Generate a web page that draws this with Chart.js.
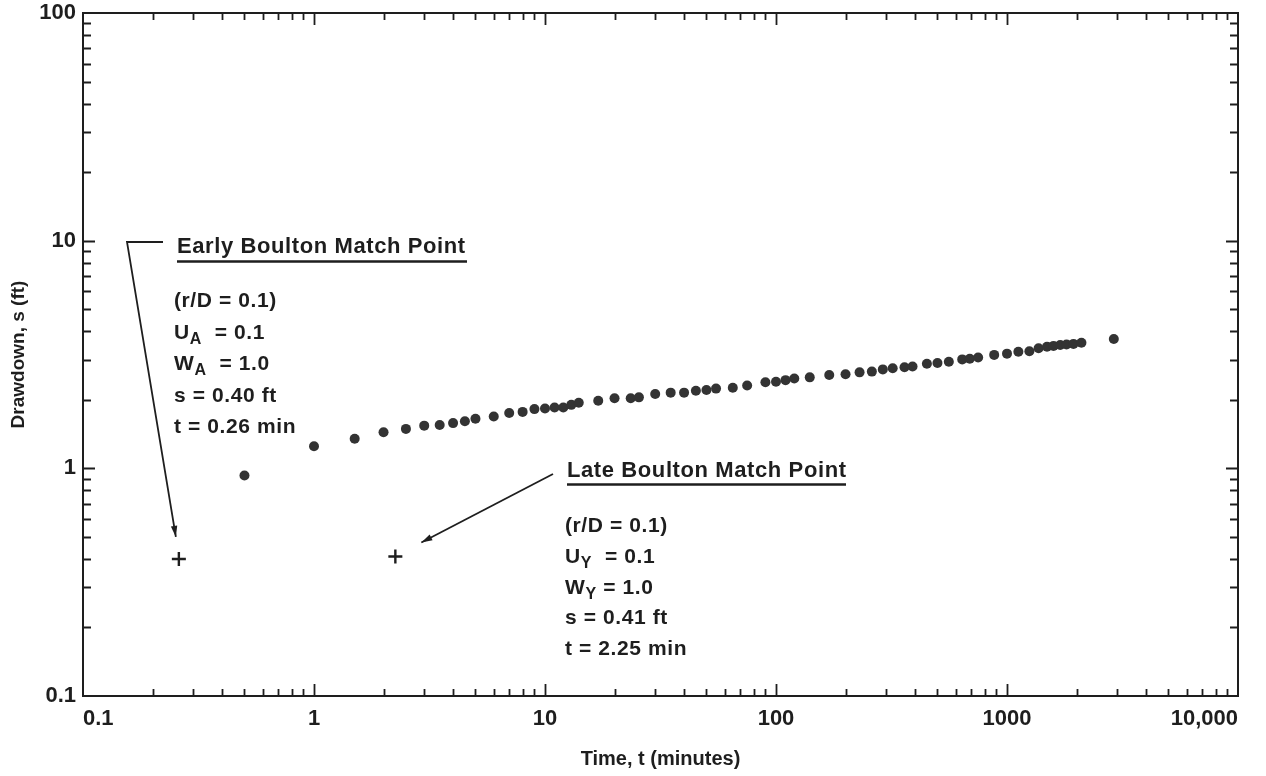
<!DOCTYPE html>
<html>
<head>
<meta charset="utf-8">
<script src="https://cdn.jsdelivr.net/npm/chart.js@4.4.1/dist/chart.umd.min.js"></script>
<style>
  html, body { margin: 0; padding: 0; background: #fff; }
  canvas { display: block; }
</style>
</head>
<body>
<canvas id="chart" width="1266" height="776"></canvas>
<script>
// Observed drawdown in the observation well (time in minutes, drawdown in feet)
const timeMinutes = [0.5, 1, 1.5, 2, 2.5, 3, 3.5, 4, 4.5, 5, 6, 7, 8, 9, 10, 11, 12, 13, 14, 17, 20,
  23.5, 25.5, 30, 35, 40, 45, 50, 55, 65, 75, 90, 100, 110, 120, 140, 170, 200, 230, 260, 290, 320,
  360, 390, 450, 500, 560, 640, 690, 750, 880, 1000, 1120, 1250, 1370, 1490, 1590, 1700, 1810, 1940,
  2100, 2900];
const drawdownFt = [0.93, 1.25, 1.35, 1.44, 1.49, 1.54, 1.55, 1.58, 1.61, 1.65, 1.69, 1.75, 1.77,
  1.82, 1.83, 1.85, 1.85, 1.90, 1.94, 1.98, 2.03, 2.03, 2.05, 2.12, 2.15, 2.15, 2.19, 2.21, 2.24,
  2.26, 2.31, 2.39, 2.40, 2.44, 2.48, 2.51, 2.57, 2.59, 2.64, 2.66, 2.72, 2.75, 2.78, 2.80, 2.88,
  2.90, 2.94, 3.01, 3.03, 3.07, 3.15, 3.19, 3.25, 3.27, 3.37, 3.42, 3.45, 3.48, 3.50, 3.52, 3.56,
  3.70];

// Boulton type-curve match points: early (A) and late (Y)
const matchTimes = [0.26, 2.25];
const matchDrawdowns = [0.40, 0.41];

// Decade ticks
const timeTicks = [0.1, 1, 10, 100, 1000, 10000];
const timeTickLabels = ['0.1', '1', '10', '100', '1000', '10,000'];
const drawdownTicks = [0.1, 1, 10, 100];
const drawdownTickLabels = ['0.1', '1', '10', '100'];

// Match-point notes
const earlyTitle = 'Early Boulton Match Point';
const earlyLines = [
  [{ t: '(r/D = 0.1)' }],
  [{ t: 'U' }, { t: 'A', sub: true }, { t: '  = 0.1' }],
  [{ t: 'W' }, { t: 'A', sub: true }, { t: '  = 1.0' }],
  [{ t: 's = 0.40 ft' }],
  [{ t: 't = 0.26 min' }]
];
const lateTitle = 'Late Boulton Match Point';
const lateLines = [
  [{ t: '(r/D = 0.1)' }],
  [{ t: 'U' }, { t: 'Y', sub: true }, { t: '  = 0.1' }],
  [{ t: 'W' }, { t: 'Y', sub: true }, { t: ' = 1.0' }],
  [{ t: 's = 0.41 ft' }],
  [{ t: 't = 2.25 min' }]
];

const INK = '#1e1e1e';
const FONT = '"Liberation Sans", Arial, Helvetica, sans-serif';

const whiteBackground = {
  id: 'whiteBackground',
  beforeDraw(chart) {
    const { ctx, width, height } = chart;
    ctx.save();
    ctx.fillStyle = '#fff';
    ctx.fillRect(0, 0, width, height);
    ctx.restore();
  }
};

// Box frame with inward-pointing log ticks on all four sides
const frameTicks = {
  id: 'frameTicks',
  afterDatasetsDraw(chart) {
    const { ctx, chartArea: a, scales: { x, y } } = chart;
    ctx.save();
    ctx.strokeStyle = INK;
    ctx.lineCap = 'butt';
    ctx.lineWidth = 2;
    ctx.strokeRect(a.left, a.top, a.right - a.left, a.bottom - a.top);
    ctx.lineWidth = 1.8;
    ctx.beginPath();
    for (let d = 0.1; d < 10000; d *= 10) {
      for (let m = 1; m <= 9; m++) {
        const v = d * m;
        if (v <= 0.1 + 1e-9) continue;
        const px = Math.round(x.getPixelForValue(v)) + 0.5;
        const len = m === 1 ? 12 : 7;
        ctx.moveTo(px, a.bottom); ctx.lineTo(px, a.bottom - len);
        ctx.moveTo(px, a.top); ctx.lineTo(px, a.top + len);
      }
    }
    for (let d = 0.1; d < 100; d *= 10) {
      for (let m = 1; m <= 9; m++) {
        const v = d * m;
        if (v <= 0.1 + 1e-9) continue;
        const py = Math.round(y.getPixelForValue(v)) + 0.5;
        const len = m === 1 ? 12 : 8;
        ctx.moveTo(a.left, py); ctx.lineTo(a.left + len, py);
        ctx.moveTo(a.right, py); ctx.lineTo(a.right - len, py);
      }
    }
    ctx.stroke();
    ctx.restore();
  }
};

function drawRich(ctx, x, y, parts) {
  let cx = x;
  for (const p of parts) {
    ctx.font = p.sub ? `bold 16px ${FONT}` : `bold 21px ${FONT}`;
    ctx.fillText(p.t, cx, p.sub ? y + 5 : y);
    cx += ctx.measureText(p.t).width;
  }
}

function drawArrow(ctx, pts) {
  ctx.beginPath();
  ctx.moveTo(pts[0][0], pts[0][1]);
  for (let i = 1; i < pts.length; i++) ctx.lineTo(pts[i][0], pts[i][1]);
  ctx.stroke();
  const [x1, y1] = pts[pts.length - 2];
  const [x2, y2] = pts[pts.length - 1];
  const ang = Math.atan2(y2 - y1, x2 - x1);
  const L = 11, W = 3.2;
  const c = Math.cos(ang), s = Math.sin(ang);
  ctx.beginPath();
  ctx.moveTo(x2, y2);
  ctx.lineTo(x2 - L * c + W * s, y2 - L * s - W * c);
  ctx.lineTo(x2 - L * c - W * s, y2 - L * s + W * c);
  ctx.closePath();
  ctx.fill();
}

// Labels and leader arrows for the two match points
const matchNotes = {
  id: 'matchNotes',
  afterDraw(chart) {
    const { ctx, scales: { x, y } } = chart;
    ctx.save();
    ctx.fillStyle = INK;
    ctx.strokeStyle = INK;
    ctx.textBaseline = 'alphabetic';
    ctx.textAlign = 'left';
    ctx.letterSpacing = '0.6px';

    // Early match point block
    ctx.font = `bold 22px ${FONT}`;
    ctx.fillText(earlyTitle, 177, 253);
    ctx.lineWidth = 2.5;
    ctx.beginPath(); ctx.moveTo(177, 261.5); ctx.lineTo(467, 261.5); ctx.stroke();
    earlyLines.forEach((parts, i) => drawRich(ctx, 174, 307 + i * 31.5, parts));

    // Late match point block
    ctx.font = `bold 22px ${FONT}`;
    ctx.fillText(lateTitle, 567, 477);
    ctx.beginPath(); ctx.moveTo(567, 484.5); ctx.lineTo(846, 484.5); ctx.stroke();
    lateLines.forEach((parts, i) => drawRich(ctx, 565, 532 + i * 30.8, parts));

    // Leader arrows ending just off each match point
    ctx.lineWidth = 1.8;
    const ex = x.getPixelForValue(matchTimes[0]);
    const ey = y.getPixelForValue(matchDrawdowns[0]);
    drawArrow(ctx, [[163, 242], [127, 242], [ex - 3, ey - 22]]);
    const lx = x.getPixelForValue(matchTimes[1]);
    const ly = y.getPixelForValue(matchDrawdowns[1]);
    drawArrow(ctx, [[553, 474], [lx + 26, ly - 14]]);
    ctx.restore();
  }
};

new Chart(document.getElementById('chart'), {
  type: 'scatter',
  data: {
    datasets: [
      {
        label: 'Drawdown',
        data: timeMinutes.map((t, i) => ({ x: t, y: drawdownFt[i] })),
        pointRadius: 5,
        pointBackgroundColor: '#333',
        pointBorderWidth: 0,
        showLine: false
      },
      {
        label: 'Match points',
        data: matchTimes.map((t, i) => ({ x: t, y: matchDrawdowns[i] })),
        pointStyle: 'cross',
        pointRadius: 7,
        pointBorderColor: INK,
        pointBorderWidth: 2.4,
        showLine: false
      }
    ]
  },
  options: {
    responsive: false,
    animation: false,
    events: [],
    layout: { padding: { top: 13, right: 28, left: 0, bottom: 0 } },
    plugins: { legend: { display: false }, tooltip: { enabled: false } },
    scales: {
      x: {
        type: 'logarithmic',
        position: 'bottom',
        min: 0.1,
        max: 10000,
        afterBuildTicks: s => { s.ticks = timeTicks.map(v => ({ value: v })); },
        afterFit: s => { s.height = 80; s.paddingLeft = 0; s.paddingRight = 0; },
        grid: { display: false, drawTicks: false },
        border: { display: false },
        ticks: {
          align: 'inner',
          padding: 10,
          color: INK,
          font: { family: FONT, size: 22, weight: 'bold' },
          callback: v => timeTickLabels[timeTicks.indexOf(v)] ?? ''
        },
        title: {
          display: true,
          text: 'Time, t (minutes)',
          color: INK,
          font: { family: FONT, size: 20, weight: 'bold' },
          padding: { top: 0, bottom: 5 }
        }
      },
      y: {
        type: 'logarithmic',
        position: 'left',
        min: 0.1,
        max: 100,
        afterBuildTicks: s => { s.ticks = drawdownTicks.map(v => ({ value: v })); },
        afterFit: s => { s.width = 83; s.paddingTop = 0; s.paddingBottom = 0; },
        grid: { display: false, drawTicks: false },
        border: { display: false },
        ticks: {
          padding: 7,
          color: INK,
          font: { family: FONT, size: 22, weight: 'bold' },
          callback: v => drawdownTickLabels[drawdownTicks.indexOf(v)] ?? ''
        },
        title: {
          display: true,
          text: 'Drawdown, s (ft)',
          color: INK,
          font: { family: FONT, size: 19, weight: 'bold' },
          padding: { top: 7, bottom: 0 }
        }
      }
    }
  },
  plugins: [whiteBackground, frameTicks, matchNotes]
});
</script>
</body>
</html>
